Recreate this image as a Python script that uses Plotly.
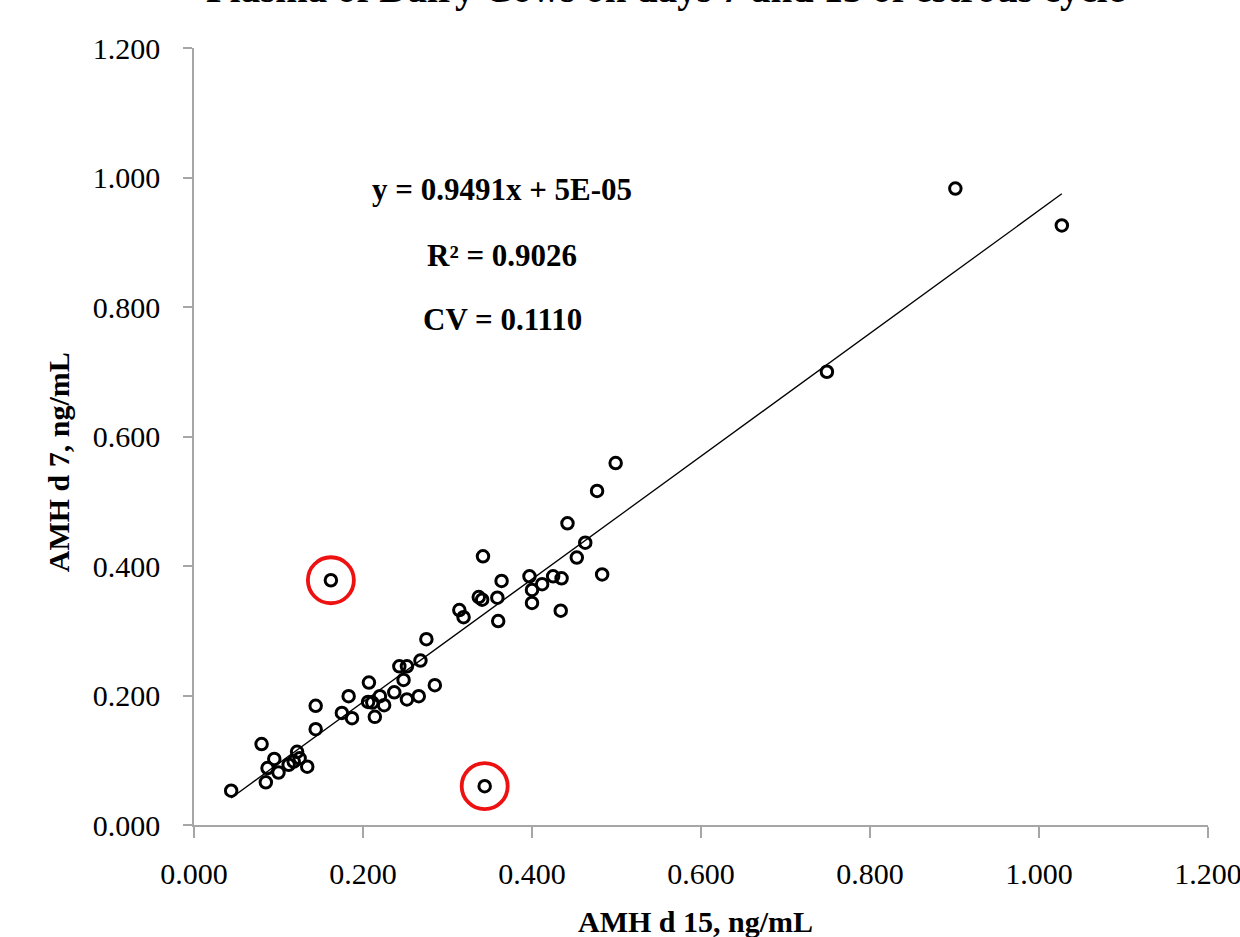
import numpy as np
import plotly.graph_objects as go

# AMH on day 15 (x) and day 7 (y), ng/mL
amh_d15 = [0.044, 0.080, 0.085, 0.087, 0.095, 0.100, 0.112, 0.118, 0.122, 0.125,
           0.134, 0.144, 0.144, 0.175, 0.183, 0.187, 0.207, 0.206, 0.211, 0.214,
           0.220, 0.225, 0.237, 0.243, 0.248, 0.252, 0.252, 0.266, 0.268, 0.285,
           0.275, 0.314, 0.319, 0.337, 0.341, 0.342, 0.359, 0.364, 0.360, 0.397,
           0.400, 0.400, 0.412, 0.425, 0.435, 0.434, 0.442, 0.453, 0.463, 0.483,
           0.477, 0.499, 0.749, 0.901, 1.027, 0.162, 0.344]
amh_d7 = [0.053, 0.125, 0.066, 0.088, 0.102, 0.081, 0.093, 0.098, 0.113, 0.103,
          0.090, 0.184, 0.148, 0.173, 0.199, 0.165, 0.220, 0.190, 0.189, 0.167,
          0.199, 0.185, 0.205, 0.245, 0.224, 0.245, 0.194, 0.199, 0.254, 0.216,
          0.287, 0.332, 0.321, 0.352, 0.348, 0.415, 0.351, 0.377, 0.315, 0.384,
          0.363, 0.343, 0.372, 0.384, 0.381, 0.331, 0.466, 0.413, 0.436, 0.387,
          0.516, 0.559, 0.700, 0.983, 0.926, 0.378, 0.060]
# indices of the circled (outlying) cows
outlier_index = [55, 56]

slope = 0.9491
intercept = 5e-05
r_squared = 0.9026
cv = 0.1110

tick_values = [0.0, 0.2, 0.4, 0.6, 0.8, 1.0, 1.2]
tick_labels = ["0.000", "0.200", "0.400", "0.600", "0.800", "1.000", "1.200"]

title_text = "Plasma of Dairy Cows on days 7 and 15 of estrous cycle"
x_title = "AMH d 15, ng/mL"
y_title = "AMH d 7, ng/mL"

FONT = "Liberation Serif, Times New Roman, serif"
AXIS_GRAY = "#a6a6a6"

x = np.array(amh_d15)
y = np.array(amh_d7)
x_fit = np.array([x.min(), x.max()])
y_fit = slope * x_fit + intercept

fig = go.Figure()
fig.add_trace(go.Scatter(
    x=x_fit, y=y_fit, mode="lines",
    line=dict(color="black", width=1.3),
    hoverinfo="skip", showlegend=False))
fig.add_trace(go.Scatter(
    x=x, y=y, mode="markers",
    marker=dict(symbol="circle-open", size=11.5, color="black",
                line=dict(color="black", width=3)),
    showlegend=False))
fig.add_trace(go.Scatter(
    x=x[outlier_index], y=y[outlier_index], mode="markers",
    marker=dict(symbol="circle-open", size=46, color="#ee1111",
                line=dict(color="#ee1111", width=3.8)),
    showlegend=False))

axis_common = dict(
    range=[0, 1.2], tickvals=tick_values, ticktext=tick_labels,
    showline=True, linecolor=AXIS_GRAY, linewidth=1.5,
    ticks="outside", tickcolor=AXIS_GRAY, tickwidth=1.5,
    showgrid=False, zeroline=False, ticklabeloverflow="allow",
    automargin=False,
    tickfont=dict(family=FONT, size=30, color="black"),
)

fig.update_layout(
    width=1240, height=937,
    margin=dict(l=194, r=32, t=48, b=112, autoexpand=False),
    paper_bgcolor="white", plot_bgcolor="white",
    xaxis=dict(**axis_common, ticklen=11, ticklabelstandoff=10),
    yaxis=dict(**axis_common, ticklen=9, ticklabelstandoff=17),
    showlegend=False,
)

ann_font = dict(family=FONT, size=31, color="black")
fig.add_annotation(text=f"<b>y = {slope:.4f}x + 5E-05</b>", xref="x", yref="y",
                   x=0.3645, y=0.981, showarrow=False, font=ann_font)
fig.add_annotation(text=f"<b>R\u00b2 = {r_squared:.4f}</b>", xref="x", yref="y",
                   x=0.3645, y=0.880, showarrow=False, font=ann_font)
fig.add_annotation(text=f"<b>CV = {cv:.4f}</b>", xref="x", yref="y",
                   x=0.3645, y=0.780, showarrow=False, font=ann_font)

fig.add_annotation(text=f"<b>{title_text}</b>", xref="paper", yref="paper",
                   x=0.4645, y=1.045, xanchor="center", yanchor="bottom",
                   showarrow=False, font=dict(family=FONT, size=39, color="black"))
fig.add_annotation(text=f"<b>{x_title}</b>", xref="paper", yref="paper",
                   x=0.4945, y=-0.1004, xanchor="center", yanchor="top",
                   showarrow=False, font=dict(family=FONT, size=30, color="black"))
fig.add_annotation(text=f"<b>{y_title}</b>", xref="paper", yref="paper",
                   x=-0.134, y=0.467, xanchor="center", yanchor="middle",
                   textangle=-90, showarrow=False,
                   font=dict(family=FONT, size=30, color="black"))

fig.write_html("out.html")
